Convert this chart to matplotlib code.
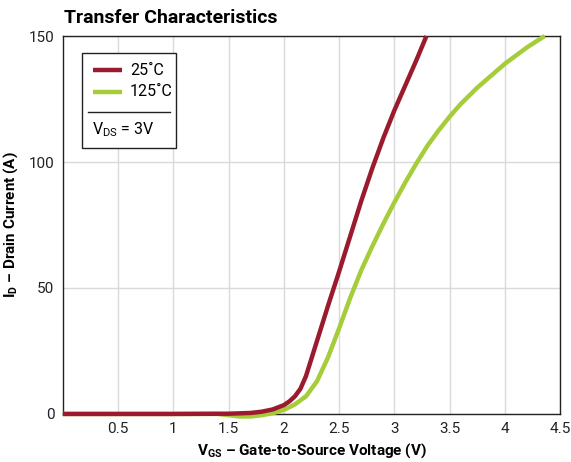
import matplotlib
matplotlib.use("Agg")
import matplotlib.pyplot as plt
from matplotlib.patches import Rectangle

FONT = "Roboto"
plt.rcParams["font.family"] = [FONT, "DejaVu Sans"]
plt.rcParams["mathtext.fontset"] = "custom"
plt.rcParams["mathtext.rm"] = FONT
plt.rcParams["mathtext.bf"] = FONT + ":bold"

# 25 C curve
vgs_25 = [0.0, 1.0, 1.5, 1.7, 1.8, 1.9, 2.0, 2.05, 2.1, 2.15, 2.2, 2.25, 2.3,
          2.4, 2.5, 2.6, 2.7, 2.8, 2.9, 3.0, 3.1, 3.2, 3.29]
id_25 = [0.0, 0.0, 0.1, 0.4, 0.9, 1.8, 3.5, 5.0, 7.0, 10.0, 15.0, 22.0, 29.0,
         43.0, 56.5, 70.5, 84.5, 97.5, 109.5, 120.5, 130.5, 140.5, 150.0]

# 125 C curve
vgs_125 = [0.0, 1.0, 1.4, 1.5, 1.6, 1.7, 1.8, 1.9, 2.0, 2.1, 2.2, 2.3, 2.4,
           2.5, 2.6, 2.7, 2.8, 2.9, 3.0, 3.1, 3.2, 3.3, 3.4, 3.5, 3.6, 3.75,
           4.0, 4.2, 4.36]
id_125 = [0.0, 0.0, 0.0, -0.5, -1.0, -1.0, -0.5, 0.3, 1.6, 3.8, 7.0, 13.0, 22.5,
          34.0, 46.0, 57.0, 66.5, 75.5, 84.0, 92.0, 99.5, 106.5, 112.5, 118.0,
          123.0, 129.5, 139.0, 145.5, 150.0]

x_ticks = [0.5, 1, 1.5, 2, 2.5, 3, 3.5, 4, 4.5]
x_labels = ["0.5", "1", "1.5", "2", "2.5", "3", "3.5", "4", "4.5"]
y_ticks = [0, 50, 100, 150]

red = "#9b1b2e"
green = "#a5cd39"

fig = plt.figure(figsize=(5.71, 4.62), dpi=100)
ax = fig.add_axes([0.110, 0.104, 0.871, 0.818])

ax.plot(vgs_125, id_125, color=green, lw=3.2, clip_on=False, zorder=3,
        solid_capstyle="butt", solid_joinstyle="round")
ax.plot(vgs_25, id_25, color=red, lw=3.2, clip_on=False, zorder=4,
        solid_capstyle="butt", solid_joinstyle="round")

ax.set_xlim(0, 4.5)
ax.set_ylim(0, 150)
ax.set_xticks(x_ticks)
ax.set_xticklabels(x_labels)
ax.set_yticks(y_ticks)
ax.tick_params(length=0, labelsize=11, pad=6, colors="#222222")
ax.grid(True, color="#d9d9d9", lw=1.0)
ax.set_axisbelow(True)
for s in ax.spines.values():
    s.set_linewidth(1.0)
    s.set_color("#222222")

ax.set_xlabel(r"$\mathbf{V_{GS}}$ – Gate-to-Source Voltage (V)",
              fontsize=11, fontweight="bold", labelpad=4)
ax.set_ylabel(r"$\mathbf{I_{D}}$ – Drain Current (A)",
              fontsize=11, fontweight="bold", labelpad=6)

fig.text(0.112, 0.962, "Transfer Characteristics", fontsize=14,
         fontweight="bold", ha="left", va="center")

# legend box
tr = ax.transAxes
ax.add_patch(Rectangle((0.039, 0.705), 0.189, 0.250, transform=tr,
                       facecolor="white", edgecolor="#222222", lw=1.0, zorder=6))
ax.plot([0.061, 0.119], [0.910, 0.910], color=red, lw=3.2, transform=tr,
        zorder=7, solid_capstyle="butt")
ax.plot([0.061, 0.119], [0.853, 0.853], color=green, lw=3.2, transform=tr,
        zorder=7, solid_capstyle="butt")
ax.text(0.135, 0.910, "25˚C", transform=tr, fontsize=11.5, va="center",
        ha="left", zorder=7)
ax.text(0.135, 0.853, "125˚C", transform=tr, fontsize=11.5, va="center",
        ha="left", zorder=7)
ax.plot([0.051, 0.216], [0.800, 0.800], color="#222222", lw=1.0,
        transform=tr, zorder=7)
ax.text(0.121, 0.752, r"$\mathregular{V_{DS}}$ = 3V", transform=tr,
        fontsize=11.5, va="center", ha="center", zorder=7)

fig.savefig("out.png", dpi=100)
